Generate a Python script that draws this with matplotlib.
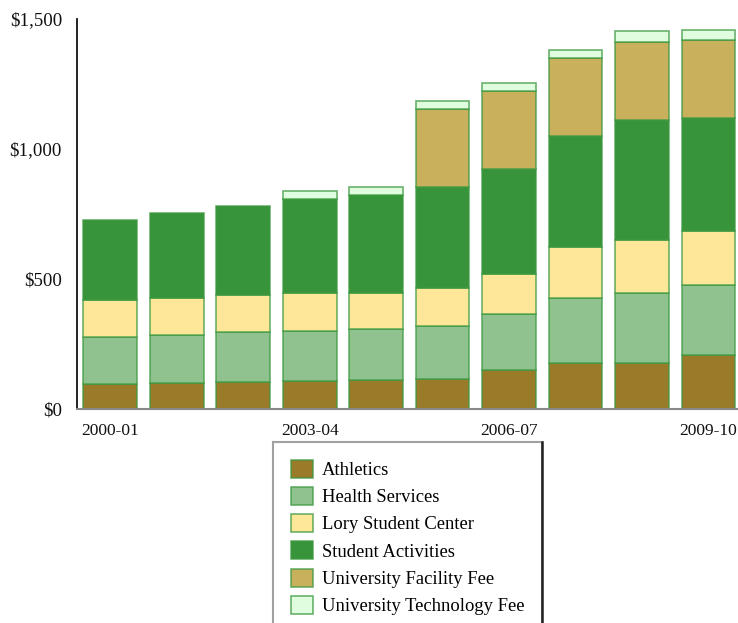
import matplotlib
matplotlib.use("Agg")
import matplotlib.pyplot as plt
import numpy as np
from matplotlib.lines import Line2D

years = ["2000-01", "2001-02", "2002-03", "2003-04", "2004-05",
         "2005-06", "2006-07", "2007-08", "2008-09", "2009-10"]
series_names = ["Athletics", "Health Services", "Lory Student Center",
                "Student Activities", "University Facility Fee",
                "University Technology Fee"]
athletics = [96, 100, 105, 108, 110, 114, 149, 178, 178, 208]
health = [180, 186, 191, 193, 196, 205, 218, 248, 267, 269]
lory = [144, 141, 144, 145, 140, 148, 153, 198, 205, 209]
student_act = [307, 326, 342, 362, 377, 387, 403, 427, 463, 433]
facility = [0, 0, 0, 0, 0, 299, 300, 299, 299, 299]
technology = [0, 0, 0, 29, 30, 32, 31, 31, 41, 41]
colors = ["#9a7b2a", "#90c290", "#fee798", "#38943b", "#c8b05c", "#e0fde0"]
shown_ticks = ["2000-01", "2003-04", "2006-07", "2009-10"]
y_ticks = [0, 500, 1000, 1500]
y_labels = ["$0", "$500", "$1,000", "$1,500"]

plt.rcParams['font.family'] = ['Liberation Serif', 'DejaVu Serif']

fig = plt.figure(figsize=(7.38, 6.23), dpi=100)
ax = fig.add_axes([77/738, 1 - 409/623, 660/738, 390/623])

x = np.arange(len(years))
bottom = np.zeros(len(years))
handles = []
for name, vals, c in zip(series_names,
                         [athletics, health, lory, student_act, facility, technology],
                         colors):
    vals = np.array(vals, dtype=float)
    mask = vals > 0
    b = ax.bar(x[mask], vals[mask], width=0.81, bottom=bottom[mask], color=c,
               edgecolor=(0.24, 0.6, 0.25, 0.75), linewidth=1.2, label=name)
    handles.append(b)
    bottom += vals

ax.set_xlim(-0.5, 9.43)
ax.set_ylim(0, 1500)
ax.set_yticks(y_ticks)
ax.set_yticklabels(y_labels)
ax.set_xticks([years.index(t) for t in shown_ticks])
ax.set_xticklabels(shown_ticks)
ax.tick_params(axis='both', length=0, labelsize=12.5, colors='#111111')
ax.tick_params(axis='y', pad=10.8, labelsize=13.6)
ax.tick_params(axis='x', pad=10)
for s in ['top', 'right']:
    ax.spines[s].set_visible(False)
ax.spines['left'].set_color('#111111')
ax.spines['left'].set_linewidth(1.3)
ax.spines['bottom'].set_color('#888888')
ax.spines['bottom'].set_linewidth(1.5)

leg = fig.legend(handles, series_names, loc='upper left',
                 bbox_to_anchor=(273/738, 1 - 442/623), borderaxespad=0,
                 fontsize=13.4, handlelength=1.18, handleheight=1.1,
                 handletextpad=0.5, labelspacing=0.43, borderpad=0.95,
                 fancybox=False, frameon=True)
leg.get_frame().set_edgecolor('#888888')
leg.get_frame().set_linewidth(1.5)

fig.canvas.draw()
bb = leg.get_frame().get_window_extent(fig.canvas.get_renderer())
xr = bb.x1 / fig.bbox.width
fig.add_artist(Line2D([xr, xr], [bb.y0 / fig.bbox.height, bb.y1 / fig.bbox.height],
                      transform=fig.transFigure, color='#222222', linewidth=1.8,
                      zorder=20))

fig.savefig("out.png", dpi=100)
